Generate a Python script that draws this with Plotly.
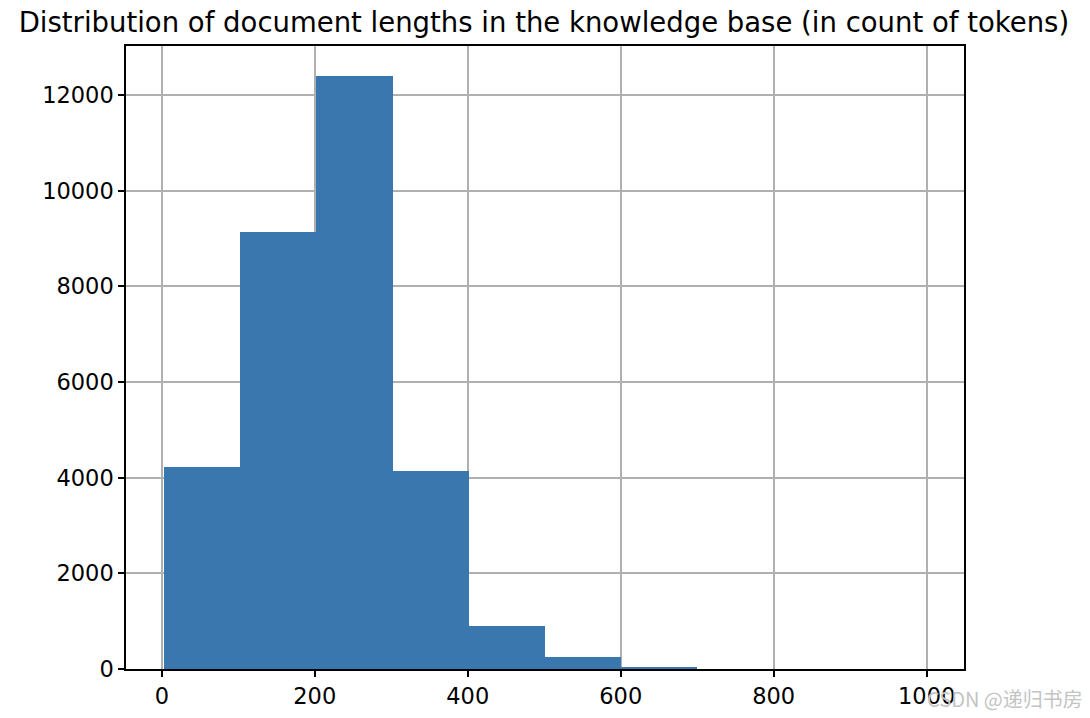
import plotly.graph_objects as go

# histogram of document lengths (tokens), 10 bins
bin_edges = [3, 102.6, 202.2, 301.8, 401.4, 501.0, 600.6, 700.2, 799.8, 899.4, 999]
counts = [4223, 9136, 12404, 4139, 899, 251, 30, 0, 0, 0]

title_text = "Distribution of document lengths in the knowledge base (in count of tokens)"
x_ticks = [0, 200, 400, 600, 800, 1000]
y_ticks = [0, 2000, 4000, 6000, 8000, 10000, 12000]

centers = [(a + b) / 2 for a, b in zip(bin_edges[:-1], bin_edges[1:])]
widths = [b - a for a, b in zip(bin_edges[:-1], bin_edges[1:])]

fig = go.Figure()
fig.add_trace(go.Bar(
    x=centers,
    y=counts,
    width=widths,
    marker=dict(color="#3a77ae", line=dict(width=0)),
    hoverinfo="x+y",
))

span = bin_edges[-1] - bin_edges[0]
axis_common = dict(
    showline=True, linecolor="black", linewidth=1.5, mirror=True,
    ticks="outside", ticklen=6, tickwidth=1.5, tickcolor="black",
    showgrid=True, gridcolor="#b0b0b0", gridwidth=1.6,
    zeroline=False, layer="above traces",
    tickfont=dict(size=22.5, color="black"),
)
fig.update_xaxes(
    range=[bin_edges[0] - 0.05 * span, bin_edges[-1] + 0.05 * span],
    tickvals=x_ticks, ticktext=[str(v) for v in x_ticks], **axis_common,
)
fig.update_yaxes(
    range=[0, max(counts) * 1.05],
    tickvals=y_ticks, ticktext=[str(v) for v in y_ticks], **axis_common,
)

# the page body adds 8px offset, margins compensate for that
fig.update_layout(
    width=1090, height=718,
    margin=dict(l=118, r=134, t=38, b=57),
    paper_bgcolor="white", plot_bgcolor="white",
    font=dict(family="DejaVu Sans", color="black"),
    title=dict(text=title_text, x=0.4917, xanchor="center", y=0.9805, yanchor="middle",
               font=dict(size=27.5, color="black")),
    bargap=0,
    showlegend=False,
)

# watermark in the corner
fig.add_annotation(
    text="CSDN @递归书房", xref="paper", yref="paper",
    x=1.0, y=0, xanchor="right", yanchor="middle", xshift=121, yshift=-29,
    showarrow=False, font=dict(size=20, color="#c4c4c4", family="Noto Sans CJK SC"),
)

fig.write_html("out.html")
